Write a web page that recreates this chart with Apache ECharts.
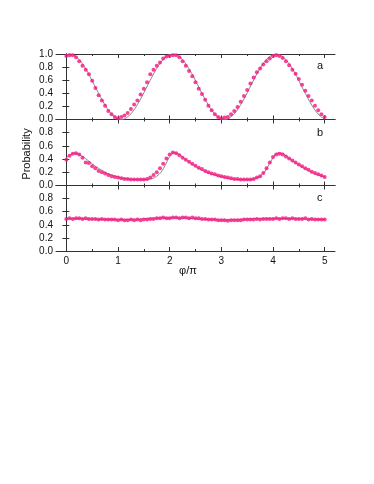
<!DOCTYPE html>
<html>
<head>
<meta charset="utf-8">
<script src="https://cdn.jsdelivr.net/npm/echarts@6/dist/echarts.min.js"></script>
<style>
  html, body { margin: 0; padding: 0; background: #fff; }
  #chart { width: 374px; height: 484px; }
</style>
</head>
<body>
<div id="chart"></div>
<script>
// phase of the measured points (phi/pi), steps of 1/16
const phiPoints = [
  0, 0.0625, 0.125, 0.1875, 0.25, 0.3125, 0.375, 0.4375, 0.5, 0.5625, 0.625, 0.6875, 0.75, 0.8125, 0.875, 0.9375,
  1, 1.0625, 1.125, 1.1875, 1.25, 1.3125, 1.375, 1.4375, 1.5, 1.5625, 1.625, 1.6875, 1.75, 1.8125, 1.875, 1.9375,
  2, 2.0625, 2.125, 2.1875, 2.25, 2.3125, 2.375, 2.4375, 2.5, 2.5625, 2.625, 2.6875, 2.75, 2.8125, 2.875, 2.9375,
  3, 3.0625, 3.125, 3.1875, 3.25, 3.3125, 3.375, 3.4375, 3.5, 3.5625, 3.625, 3.6875, 3.75, 3.8125, 3.875, 3.9375,
  4, 4.0625, 4.125, 4.1875, 4.25, 4.3125, 4.375, 4.4375, 4.5, 4.5625, 4.625, 4.6875, 4.75, 4.8125, 4.875, 4.9375,
  5
];
// phase of the theory curves
const phiFit = [
  0, 0.083, 0.167, 0.25, 0.333, 0.417, 0.5, 0.583, 0.667, 0.75, 0.833, 0.917,
  1, 1.083, 1.167, 1.25, 1.333, 1.417, 1.5, 1.583, 1.667, 1.75, 1.833, 1.917,
  2, 2.083, 2.167, 2.25, 2.333, 2.417, 2.5, 2.583, 2.667, 2.75, 2.833, 2.917,
  3, 3.083, 3.167, 3.25, 3.333, 3.417, 3.5, 3.583, 3.667, 3.75, 3.833, 3.917,
  4, 4.083, 4.167, 4.25, 4.333, 4.417, 4.5, 4.583, 4.667, 4.75, 4.833, 4.917,
  5
];

// measured probabilities, panels a, b, c
const probA = [
  0.97, 0.98, 0.98, 0.95, 0.89, 0.82, 0.76, 0.69, 0.59, 0.48, 0.37, 0.29, 0.21, 0.13, 0.08, 0.04,
  0.02, 0.04, 0.06, 0.10, 0.16, 0.23, 0.29, 0.38, 0.47, 0.57, 0.69, 0.76, 0.82, 0.87, 0.93, 0.96,
  0.97, 0.98, 0.98, 0.95, 0.89, 0.82, 0.74, 0.66, 0.57, 0.47, 0.39, 0.30, 0.21, 0.14, 0.08, 0.04,
  0.02, 0.03, 0.04, 0.08, 0.13, 0.19, 0.27, 0.36, 0.45, 0.55, 0.64, 0.72, 0.78, 0.84, 0.89, 0.93,
  0.97, 0.98, 0.97, 0.94, 0.89, 0.83, 0.76, 0.70, 0.62, 0.53, 0.44, 0.36, 0.29, 0.21, 0.14, 0.08,
  0.04
];
const probB = [
  0.39, 0.45, 0.48, 0.49, 0.47, 0.42, 0.35, 0.34, 0.29, 0.26, 0.22, 0.20, 0.18, 0.16, 0.14, 0.13,
  0.12, 0.11, 0.10, 0.10, 0.09, 0.09, 0.09, 0.09, 0.09, 0.10, 0.12, 0.16, 0.20, 0.26, 0.33, 0.41,
  0.47, 0.50, 0.49, 0.46, 0.42, 0.39, 0.36, 0.33, 0.30, 0.27, 0.25, 0.22, 0.20, 0.18, 0.17, 0.15,
  0.14, 0.13, 0.12, 0.11, 0.10, 0.10, 0.09, 0.09, 0.09, 0.09, 0.10, 0.12, 0.14, 0.19, 0.26, 0.35,
  0.43, 0.47, 0.48, 0.47, 0.44, 0.41, 0.38, 0.35, 0.32, 0.29, 0.26, 0.24, 0.21, 0.19, 0.17, 0.15,
  0.13
];
const probC = [
  0.49, 0.50, 0.49, 0.50, 0.50, 0.49, 0.50, 0.49, 0.49, 0.49, 0.48, 0.49, 0.48, 0.48, 0.48, 0.48,
  0.47, 0.48, 0.47, 0.47, 0.48, 0.47, 0.48, 0.47, 0.48, 0.48, 0.49, 0.49, 0.50, 0.50, 0.51, 0.50,
  0.50, 0.51, 0.51, 0.50, 0.51, 0.51, 0.50, 0.51, 0.50, 0.50, 0.49, 0.49, 0.48, 0.48, 0.48, 0.47,
  0.47, 0.47, 0.46, 0.47, 0.47, 0.47, 0.47, 0.48, 0.48, 0.48, 0.48, 0.49, 0.48, 0.49, 0.49, 0.49,
  0.49, 0.50, 0.49, 0.50, 0.50, 0.49, 0.50, 0.49, 0.49, 0.49, 0.50, 0.48, 0.49, 0.48, 0.48, 0.48,
  0.48
];

// theory curves, panels a, b, c
const fitA = [
  0.991, 0.999, 0.972, 0.914, 0.827, 0.718, 0.594, 0.463, 0.336, 0.219, 0.122, 0.050,
  0.009, 0.001, 0.028, 0.086, 0.173, 0.282, 0.406, 0.537, 0.664, 0.781, 0.879, 0.950,
  0.991, 0.999, 0.972, 0.914, 0.827, 0.718, 0.594, 0.463, 0.336, 0.219, 0.122, 0.050,
  0.009, 0.001, 0.028, 0.086, 0.173, 0.282, 0.406, 0.537, 0.664, 0.781, 0.879, 0.950,
  0.991, 0.999, 0.972, 0.914, 0.827, 0.718, 0.594, 0.463, 0.336, 0.219, 0.122, 0.050,
  0.009
];
const fitB = [
  0.42, 0.47, 0.49, 0.47, 0.43, 0.38, 0.33, 0.28, 0.24, 0.20, 0.17, 0.15,
  0.13, 0.115, 0.10, 0.095, 0.09, 0.088, 0.088, 0.092, 0.105, 0.14, 0.20, 0.31,
  0.44, 0.50, 0.48, 0.43, 0.38, 0.33, 0.29, 0.25, 0.22, 0.19, 0.17, 0.15,
  0.13, 0.115, 0.10, 0.095, 0.09, 0.088, 0.088, 0.092, 0.105, 0.14, 0.20, 0.31,
  0.42, 0.49, 0.49, 0.45, 0.40, 0.35, 0.31, 0.27, 0.23, 0.20, 0.17, 0.15,
  0.13
];
const fitC = [
  0.495, 0.495, 0.494, 0.492, 0.490, 0.488, 0.486, 0.484, 0.482, 0.480, 0.479, 0.478,
  0.478, 0.478, 0.479, 0.481, 0.484, 0.488, 0.492, 0.496, 0.499, 0.502, 0.504, 0.505,
  0.505, 0.505, 0.504, 0.502, 0.499, 0.496, 0.492, 0.488, 0.484, 0.481, 0.479, 0.477,
  0.476, 0.476, 0.477, 0.479, 0.482, 0.485, 0.488, 0.491, 0.493, 0.495, 0.496, 0.497,
  0.497, 0.497, 0.497, 0.496, 0.495, 0.494, 0.492, 0.490, 0.488, 0.486, 0.485, 0.484,
  0.483
];

const xTicks = [0, 1, 2, 3, 4, 5];
const xMinorTicks = [0.5, 1.5, 2.5, 3.5, 4.5];
const panelLetters = ['a', 'b', 'c'];
const xTitle = 'φ/π';
const yTitle = 'Probability';

const measured = [probA, probB, probC];
const theory = [fitA, fitB, fitC];

const pink = '#f5147e';
const frame = '#333';
const font = 'Liberation Sans, Arial, sans-serif';

const zip = (xs, ys) => xs.map((x, i) => [x, ys[i]]);

const grids = [
  { left: 56, right: 39, top: 54, height: 65.5 },
  { left: 56, right: 39, top: 119.5, height: 66 },
  { left: 56, right: 39, top: 185.5, height: 65.5 }
];

function xAxisFor(gi, position, ticks, len, withLine, withLabels) {
  return {
    type: 'value', gridIndex: gi, position: position,
    min: -0.2, max: 5.2,
    axisLine: { show: withLine, lineStyle: { color: frame, width: 1 } },
    axisTick: { show: true, inside: true, length: len, customValues: ticks,
                lineStyle: { color: frame, width: 1 } },
    axisLabel: { show: withLabels, customValues: ticks, color: '#111',
                 fontFamily: font, fontSize: 10, margin: 5 },
    splitLine: { show: false }
  };
}

const xAxes = [];
const yAxes = [];
const series = [];
grids.forEach((g, i) => {
  const last = i === grids.length - 1;
  xAxes.push(xAxisFor(i, 'bottom', xTicks, 4, true, last));
  xAxes.push(xAxisFor(i, 'bottom', xMinorTicks, 2, false, false));
  xAxes.push(xAxisFor(i, 'top', xTicks, 4, true, false));
  xAxes.push(xAxisFor(i, 'top', xMinorTicks, 2, false, false));

  yAxes.push({
    type: 'value', gridIndex: i, position: 'left',
    min: 0, max: 1, interval: 0.2,
    axisLine: { show: true, lineStyle: { color: frame, width: 1 } },
    axisTick: { show: true, inside: true, length: 3, lineStyle: { color: frame } },
    axisLabel: { color: '#111', fontFamily: font, fontSize: 10, margin: 3,
                 showMaxLabel: i === 0, formatter: v => v.toFixed(1) },
    splitLine: { show: false }
  });
  yAxes.push({
    type: 'value', gridIndex: i, position: 'right',
    min: 0, max: 1, interval: 0.2,
    axisLine: { show: true, lineStyle: { color: frame, width: 1 } },
    axisTick: { show: true, inside: true, length: 4, lineStyle: { color: frame } },
    axisLabel: { show: false },
    splitLine: { show: false }
  });

  series.push({
    type: 'line', xAxisIndex: i * 4, yAxisIndex: i * 2,
    data: zip(phiFit, theory[i]), smooth: 0.3, showSymbol: false,
    lineStyle: { color: '#8a8a8a', width: 1 }, z: 2, silent: true
  });
  series.push({
    type: 'scatter', xAxisIndex: i * 4, yAxisIndex: i * 2,
    data: zip(phiPoints, measured[i]), symbol: 'circle', symbolSize: 4,
    itemStyle: { color: pink }, z: 3
  });
});

const labelY = [67, 134, 199];
const graphic = panelLetters.map((t, i) => ({
  type: 'text', left: 317, top: labelY[i] - 7,
  style: { text: t, font: '11px ' + font, fill: '#111' }
}));
graphic.push({
  type: 'text', x: 188, y: 271,
  style: { text: xTitle, font: '11px ' + font, fill: '#111', align: 'center', verticalAlign: 'middle' }
});
graphic.push({
  type: 'text', x: 27, y: 154, rotation: Math.PI / 2,
  style: { text: yTitle, font: '11px ' + font, fill: '#111', align: 'center', verticalAlign: 'middle' }
});

const chart = echarts.init(document.getElementById('chart'), null, { renderer: 'canvas' });
chart.setOption({
  animation: false,
  backgroundColor: '#fff',
  grid: grids,
  xAxis: xAxes,
  yAxis: yAxes,
  series: series,
  graphic: graphic
});
</script>
</body>
</html>
